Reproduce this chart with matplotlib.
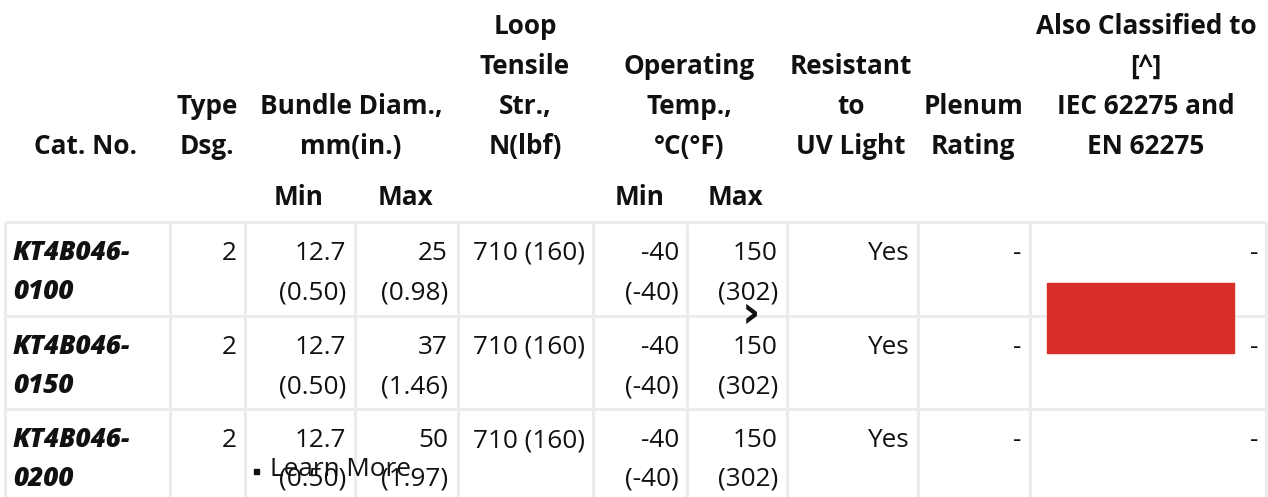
import matplotlib
matplotlib.use("Agg")
import matplotlib.pyplot as plt

# ---- data ----
cat_no_line1 = ["KT4B046-", "KT4B046-", "KT4B046-"]
cat_no_line2 = ["0100", "0150", "0200"]
type_dsg = ["2", "2", "2"]
bundle_min_mm = ["12.7", "12.7", "12.7"]
bundle_min_in = ["(0.50)", "(0.50)", "(0.50)"]
bundle_max_mm = ["25", "37", "50"]
bundle_max_in = ["(0.98)", "(1.46)", "(1.97)"]
loop_tensile = ["710 (160)", "710 (160)", "710 (160)"]
temp_min_c = ["-40", "-40", "-40"]
temp_min_f = ["(-40)", "(-40)", "(-40)"]
temp_max_c = ["150", "150", "150"]
temp_max_f = ["(302)", "(302)", "(302)"]
uv_resistant = ["Yes", "Yes", "Yes"]
plenum_rating = ["-", "-", "-"]
also_classified = ["-", "-", "-"]

headers = [
    ("Cat. No.", 86),
    ("Type\nDsg.", 207),
    ("Bundle Diam.,\nmm(in.)", 351),
    ("Loop\nTensile\nStr.,\nN(lbf)", 525),
    ("Operating\nTemp.,\n°C(°F)", 689),
    ("Resistant\nto\nUV Light", 851),
    ("Plenum\nRating", 973),
    ("Also Classified to\n[^]\nIEC 62275 and\nEN 62275", 1146),
]
subheaders = [("Min", 299), ("Max", 406), ("Min", 640), ("Max", 736)]

# ---- layout ----
W, H = 1268, 497
col_lines = [5, 170, 245, 355, 458, 593, 687, 787, 918, 1030, 1266]
row_tops = [222, 316, 409]
grid_color = "#ececec"
FONT = "Open Sans"
FS = 18.8

fig = plt.figure(figsize=(W / 100, H / 100), dpi=100)
ax = fig.add_axes([0, 0, 1, 1])
ax.set_xlim(0, W)
ax.set_ylim(H, 0)
ax.axis("off")

# grid
for x in col_lines:
    ax.plot([x, x], [row_tops[0], H], color=grid_color, lw=2.2, solid_capstyle="butt", zorder=1)
for y in row_tops:
    ax.plot([col_lines[0], col_lines[-1]], [y, y], color=grid_color, lw=2.2, solid_capstyle="butt", zorder=1)

# header
header_last_baseline = 154
line_gap = 40
for label, xc in headers:
    lines = label.split("\n")
    n = len(lines)
    for i, ln in enumerate(lines):
        yb = header_last_baseline - (n - 1 - i) * line_gap
        ax.text(xc, yb, ln, ha="center", va="baseline", fontsize=FS,
                fontweight="bold", family=FONT, color="#111111")
for label, xc in subheaders:
    ax.text(xc, 205, label, ha="center", va="baseline", fontsize=FS,
            fontweight="bold", family=FONT, color="#111111")

# body
b1, b2 = 38, 77
def cell(x, y, s, ha="right", **kw):
    ax.text(x, y, s, ha=ha, va="baseline", fontsize=FS, family=FONT,
            color="#111111", **kw)

for r, top in enumerate(row_tops):
    y1, y2 = top + b1, top + b2
    cell(13, y1, cat_no_line1[r], ha="left", fontweight="heavy", fontstyle="italic")
    cell(13, y2, cat_no_line2[r], ha="left", fontweight="heavy", fontstyle="italic")
    cell(237, y1, type_dsg[r])
    cell(346, y1, bundle_min_mm[r])
    cell(346, y2, bundle_min_in[r])
    cell(448, y1, bundle_max_mm[r])
    cell(448, y2, bundle_max_in[r])
    cell(585, y1, loop_tensile[r])
    cell(679, y1, temp_min_c[r])
    cell(679, y2, temp_min_f[r])
    cell(778, y1, temp_max_c[r])
    cell(778, y2, temp_max_f[r])
    cell(910, y1, uv_resistant[r])
    cell(1021, y1, plenum_rating[r])
    cell(1258, y1, also_classified[r])

# overlays present in the screenshot
ax.add_patch(plt.Rectangle((1047, 283), 187, 70, color="#d92d2a", zorder=5))
ax.text(751, 314, "›", ha="center", va="center", fontsize=32, fontweight="bold",
        family="DejaVu Sans", color="#111111", zorder=6)
ax.add_patch(plt.Rectangle((254, 469), 5, 5, color="#111111", zorder=6))
ax.text(270, 476, "Learn More", ha="left", va="baseline", fontsize=FS,
        family=FONT, color="#111111", zorder=6)

fig.savefig("out.png", dpi=100)
